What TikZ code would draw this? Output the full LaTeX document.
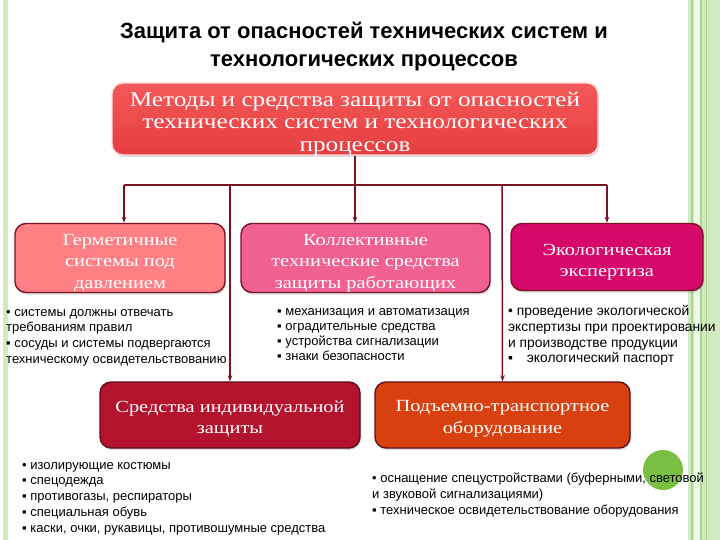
\documentclass[tikz,border=0pt]{standalone}
\usepackage{fontspec}
\setmainfont{Liberation Serif}
\setsansfont{Liberation Sans}
\newfontfamily\boxserif{Liberation Serif}[FakeStretch=1.2]
\usetikzlibrary{arrows.meta,shadows}

\definecolor{linkred}{HTML}{7A1222}
\definecolor{stripe}{HTML}{D2EAC2}
\definecolor{stripedark}{HTML}{A9D68C}
\definecolor{topfill}{RGB}{244,88,88}
\definecolor{topfilldark}{RGB}{230,62,64}
\definecolor{germfill}{RGB}{255,128,132}
\definecolor{kollfill}{RGB}{240,96,146}
\definecolor{ecofill}{RGB}{214,8,106}
\definecolor{sizfill}{RGB}{180,19,45}
\definecolor{ptofill}{RGB}{216,65,15}
\definecolor{dotgreen}{RGB}{122,190,66}

\tikzset{
  box/.style={rectangle, rounded corners=11pt, line width=1.4pt, inner sep=0pt,
    drop shadow={opacity=0.3, shadow xshift=1pt, shadow yshift=-2pt}},
  boxtext/.style={align=center, text=white, inner sep=0pt,
    font=\boxserif\fontsize{17}{21.5}\selectfont},
  link/.style={draw=linkred, line width=1.5pt},
  arr/.style={link, -{Stealth[length=6pt,width=4.5pt]}},
  list/.style={anchor=north west, inner sep=0pt, align=left,
    font=\sffamily\fontsize{13}{15.8}\selectfont}
}

\begin{document}
\begin{tikzpicture}[x=1pt, y=-1pt]
  \useasboundingbox (0,0) rectangle (720,540);

  % полосы по краям
  \fill[stripe] (3,0) rectangle (8,540);
  \fill[stripe] (688,0) rectangle (720,540);
  \fill[white!60!stripe] (694,0) rectangle (700,540);
  \fill[stripedark] (691,0) rectangle (693,540);
  \fill[stripedark] (700,0) rectangle (702,540);
  \fill[stripedark] (706,0) rectangle (707,540);

  % заголовок
  \node[font=\sffamily\bfseries\fontsize{22}{28}\selectfont, align=center]
    (title) at (364,47) {Защита от опасностей технических систем и\\технологических процессов};

  % главный блок
  \node[box, top color=topfill, bottom color=topfilldark, draw=white!85!red,
        minimum width=486pt, minimum height=72pt] (methods) at (355,119) {};
  \node[boxtext, font=\boxserif\fontsize{21}{22.5}\selectfont]
    (methodstext) at ([yshift=-5pt]methods.center)
    {Методы и средства защиты от опасностей\\технических систем и технологических\\процессов};

  % второй ряд
  \node[box, fill=germfill, draw=linkred, minimum width=210pt, minimum height=69pt]
    (germ) at (120,258) {};
  \node[boxtext] (germtext) at ([yshift=-5pt]germ.center) {Герметичные\\системы под\\давлением};
  \node[box, fill=kollfill, draw=linkred, minimum width=249pt, minimum height=69pt]
    (koll) at (365.5,258) {};
  \node[boxtext] (kolltext) at ([yshift=-5pt]koll.center) {Коллективные\\технические средства\\защиты работающих};
  \node[box, fill=ecofill, draw=linkred, minimum width=192pt, minimum height=67pt]
    (eco) at (607,257) {};
  \node[boxtext] (ecotext) at ([yshift=-5pt]eco.center) {Экологическая\\экспертиза};

  % третий ряд
  \node[box, fill=sizfill, draw=linkred!80!black, minimum width=260pt, minimum height=66pt]
    (siz) at (230,415) {};
  \node[boxtext] (siztext) at ([yshift=-4pt]siz.center) {Средства индивидуальной\\защиты};
  \node[box, fill=ptofill, draw=linkred!80!black, minimum width=255pt, minimum height=66pt]
    (pto) at (502.5,415) {};
  \node[boxtext] (ptotext) at ([yshift=-4pt]pto.center) {Подъемно-транспортное\\оборудование};

  % связи
  \coordinate (fork) at (355,185);
  \coordinate (forkL) at (124,185);
  \coordinate (forkR) at (607,185);
  \coordinate (dropL) at (230,185);
  \coordinate (dropR) at (502,185);
  \draw[link] (methods.south) -- (fork);
  \draw[link] (forkL) -- (forkR);
  \draw[arr] (forkL) -- (forkL |- germ.north);
  \draw[arr] (fork) -- (fork |- koll.north);
  \draw[arr] (forkR) -- (eco.north);
  \draw[arr] (dropL) -- (siz.north);
  \draw[arr] (dropR) -- (pto.north);

  % зелёный кружок
  \fill[dotgreen] (663,470) circle (20);

  % списки
  \node[list] (germlist) at (6,309)
    {• системы должны отвечать\\требованиям правил\\▪ сосуды и системы подвергаются\\техническому освидетельствованию};
  \node[list, font=\sffamily\fontsize{13}{15}\selectfont] (kolllist) at (277,308)
    {▪ механизация и автоматизация\\▪ оградительные средства\\▪ устройства сигнализации\\▪ знаки безопасности};
  \node[list, font=\sffamily\fontsize{13.8}{15.8}\selectfont] (ecolist) at (508,305)
    {• проведение экологической\\экспертизы при проектировании\\и производстве продукции\\▪\quad экологический паспорт};
  \node[list] (sizlist) at (22,462)
    {• изолирующие костюмы\\▪ спецодежда\\▪ противогазы, респираторы\\▪ специальная обувь\\▪ каски, очки, рукавицы, противошумные средства};
  \node[list] (ptolist) at (372,473)
    {• оснащение спецустройствами (буферными, световой\\и звуковой сигнализациями)\\▪ техническое освидетельствование оборудования};
\end{tikzpicture}
\end{document}
